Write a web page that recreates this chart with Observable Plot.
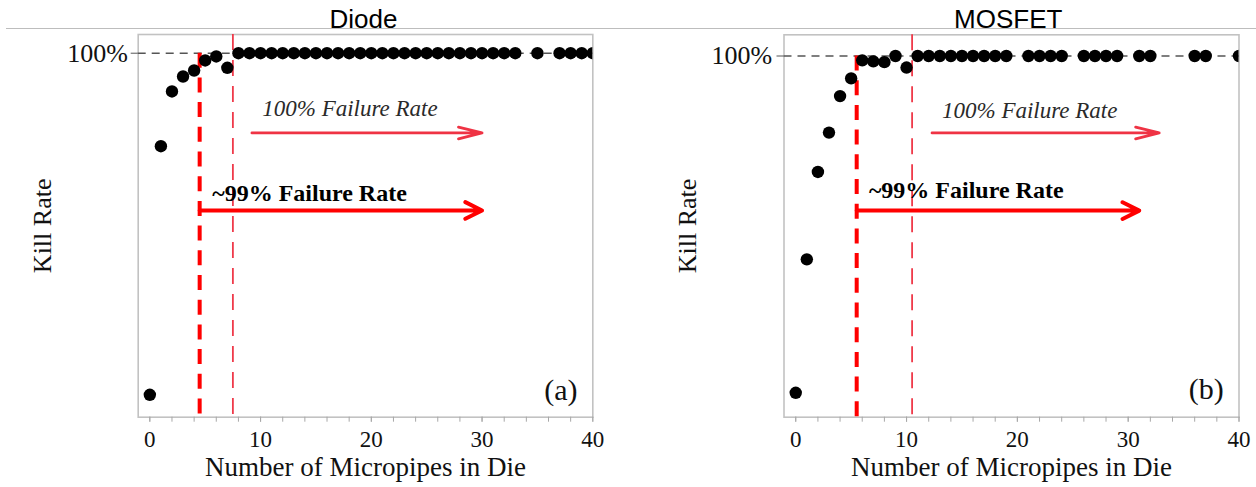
<!DOCTYPE html>
<html><head><meta charset="utf-8">
<script src="https://cdn.jsdelivr.net/npm/d3@7"></script>
<script src="https://cdn.jsdelivr.net/npm/@observablehq/plot@0.6"></script>
<style>
body{margin:0;background:#fff;}
#wrap{position:relative;width:1256px;height:487px;overflow:hidden;background:#fff;}
#wrap svg{position:absolute;top:0;}
#topline{position:absolute;left:6px;top:28px;width:1250px;height:1px;background:#bdbdbd;}
</style></head><body>
<div id="wrap"><div id="topline"></div></div>
<script>
// ---- data ----
const xTickLabels = [0, 10, 20, 30, 40];
const minorTicks = d3.range(0, 41, 2);

const diodeCounts = [0,1,2,3,4,5,6,7,8,9,10,11,12,13,14,15,16,17,18,19,20,21,22,23,24,25,26,27,28,29,30,31,32,33,35,37,38,39,40];
const diodeKill   = [0.0615,0.7445,0.895,0.936,0.9525,0.980,0.991,0.960,
  1,1,1,1,1,1,1,1,1,1,1,1,1,1,1,1,1,1,1,1,1,1,1,1,1,1, 1,1,1,1,1];

const mosfetCounts = [0,1,2,3,4,5,6,7,8,9,10,11,12,13,14,15,16,17,18,19,21,22,23,24,26,27,28,29,31,32,36,37,40];
const mosfetKill   = [0.0676,0.437,0.679,0.788,0.889,0.938,0.988,0.985,0.983,1.0,0.968,
  1,1,1,1,1,1,1,1,1, 1,1,1,1, 1,1,1,1, 1,1, 1,1, 1];

// thresholds: [~99% failure, 100% failure]
const diodeThresholds = [4.5, 7.5];
const mosfetThresholds = [5.5, 10.5];

// annotation anchors in data units
const diodeNotes = {text100: [10.15, 0.847], arrow100: [9.22, 30, 0.781], text99: [5.63, 0.615], arrow99: [4.5, 30, 0.568]};
const mosfetNotes = {text100: [13.2, 0.849], arrow100: [12.3, 32.8, 0.787], text99: [6.6, 0.628], arrow99: [5.5, 31, 0.572]};

const titles = ["Diode", "MOSFET"];
const tags = ["(a)", "(b)"];

function panel(cfg) {
  const data = cfg.counts.map((c, i) => ({c, k: cfg.kill[i]}));
  const n = cfg.notes;
  return Plot.plot({
    width: 628, height: 487,
    marginTop: cfg.mt, marginBottom: 70.3, marginLeft: cfg.ml, marginRight: cfg.mr,
    x: {domain: [cfg.xMin, 40], label: null},
    y: {domain: [0, cfg.yTop], label: null},
    style: {fontFamily: "'Liberation Serif', 'Times New Roman', serif", background: "transparent", overflow: "visible", color: "#111"},
    marks: [
      Plot.frame({stroke: "#c2c2c2", strokeWidth: 1.6}),
      Plot.axisX(minorTicks, {tickSize: 5, stroke: "#a8a8a8", tickFormat: () => "", label: null}),
      Plot.axisX(xTickLabels, {tickSize: 5, tickPadding: 8, fontSize: 23, stroke: "#a8a8a8", fill: "#111", label: null}),
      Plot.axisY([1], {tickSize: 7, tickPadding: cfg.yPad, tickFormat: () => "100%", fontSize: 26, stroke: "#555", fill: "#111", label: null}),
      Plot.ruleY([1], {stroke: "#555", strokeWidth: 1.4, strokeDasharray: "8,6"}),
      Plot.ruleX([cfg.thresholds[1]], {stroke: "#ef3a4a", strokeWidth: 1.8, strokeDasharray: "16,10"}),
      Plot.ruleX([cfg.thresholds[0]], {y1: 1, y2: 0, stroke: "#ff0000", strokeWidth: 4, strokeDasharray: "15,9.7"}),
      Plot.dot(data, {x: "c", y: "k", r: 6.2, fill: "#000", stroke: null, clip: true}),
      Plot.text(["100% Failure Rate"], {x: n.text100[0], y: n.text100[1], textAnchor: "start", lineAnchor: "middle", fontSize: 23, fontStyle: "italic", fill: "#2a2a2a"}),
      Plot.arrow([0], {x1: n.arrow100[0], x2: n.arrow100[1], y1: n.arrow100[2], y2: n.arrow100[2], stroke: "#ef3344", strokeWidth: 2.8, headLength: 13, headAngle: 28}),
      Plot.text(["~99% Failure Rate"], {x: n.text99[0], y: n.text99[1], textAnchor: "start", lineAnchor: "middle", fontSize: 24, fontWeight: "bold", fill: "#000"}),
      Plot.arrow([0], {x1: n.arrow99[0], x2: n.arrow99[1], y1: n.arrow99[2], y2: n.arrow99[2], stroke: "#ff0000", strokeWidth: 4, headLength: 7, headAngle: 53}),
      Plot.text([cfg.tag], {frameAnchor: "bottom-right", dx: -15.3, dy: cfg.tagDy, textAnchor: "end", lineAnchor: "middle", fontSize: 30, fill: "#111"}),
      Plot.text([cfg.title], {frameAnchor: "top", dx: cfg.titleDx, dy: -15, textAnchor: "middle", lineAnchor: "middle", fontSize: 26, fontFamily: "'Liberation Sans', Arial, sans-serif", fill: "#000"}),
      Plot.text(["Number of Micropipes in Die"], {frameAnchor: "bottom", dy: 50, textAnchor: "middle", lineAnchor: "middle", fontSize: 27, fill: "#111"}),
      Plot.text(["Kill Rate"], {frameAnchor: "left", dx: cfg.yLabelDx, rotate: -90, textAnchor: "middle", lineAnchor: "middle", fontSize: 26, fill: "#111"})
    ]
  });
}

const wrap = document.getElementById("wrap");
const left = panel({counts: diodeCounts, kill: diodeKill, thresholds: diodeThresholds, notes: diodeNotes,
  title: titles[0], tag: tags[0], xMin: -1.05, yTop: 1.0514, mt: 34, ml: 137.7, mr: 35.7,
  yPad: 3.4, tagDy: -26.4, titleDx: -2, yLabelDx: -95.2});
left.style.left = "0px";
wrap.appendChild(left);
const right = panel({counts: mosfetCounts, kill: mosfetKill, thresholds: mosfetThresholds, notes: mosfetNotes,
  title: titles[1], tag: tags[1], xMin: -1.06, yTop: 1.0587, mt: 34.3, ml: 155.5, mr: 17.5,
  yPad: 4.8, tagDy: -27.4, titleDx: -3.3, yLabelDx: -96.8});
right.style.left = "628px";
wrap.appendChild(right);
</script>
</body></html>
